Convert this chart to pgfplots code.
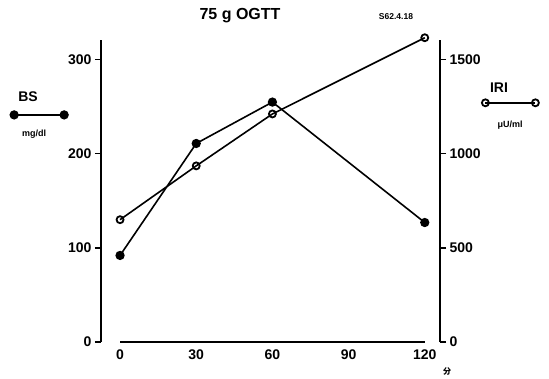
\documentclass[border=0pt]{standalone}
\usepackage{pgfplots}
\pgfplotsset{compat=1.18}
\usepackage{fontspec}
\setmainfont{Liberation Sans}
\newfontfamily\cjk{Noto Sans CJK JP}
\begin{document}
\begin{tikzpicture}
\path[use as bounding box] (0pt,0pt) rectangle (549pt,378pt);
\pgfplotsset{
  common/.style={
    at={(101pt,36pt)}, anchor=south west,
    scale only axis, width=339pt, height=302pt,
    xmin=-7.5, xmax=126,
    clip=false,
    /pgf/number format/assume math mode=true,
    /pgf/number format/1000 sep={},
    tick label style={font=\fontsize{14}{16}\selectfont\bfseries},
    axis line style={line width=1.6pt},
    major tick length=6pt,
    tick style={line width=1.2pt, black},
    tick align=outside,
  },
  legend image code/.code={%
    \draw[#1] plot coordinates {(0pt,0pt) (50pt,0pt)};
  },
}
\begin{axis}[common,
  ymin=0, ymax=321,
  axis y line*=left,
  axis x line*=bottom,
  x axis line style={shorten <=19pt, shorten >=15pt},
  ytick={0,100,200,300},
  xtick={0,30,60,90,120},
  xtick style={draw=none},
  xticklabel style={yshift=2pt},
  legend style={draw=none, fill=none, inner sep=0pt, at={(-0.268,0.752)}, anchor=west,
    /tikz/every even column/.append style={column sep=0pt}},
]
\addplot[black, line width=1.6pt, mark=*, mark size=3.8pt] coordinates {
  (0,92) (30,211) (60,255) (120,127)};
\addlegendentry{}
\end{axis}
\begin{axis}[common,
  ymin=0, ymax=1605,
  axis y line*=right,
  axis x line=none,
  ytick={0,500,1000,1500},
  legend style={draw=none, fill=none, inner sep=0pt, at={(1.123,0.792)}, anchor=west},
]
\addplot[black, line width=1.6pt, mark=o, mark size=3.5pt, mark options={line width=1.8pt, fill=white}] coordinates {
  (0,650) (30,936) (60,1212) (120,1617)};
\addlegendentry{}
\end{axis}
\node[font=\fontsize{16}{18}\selectfont\bfseries] at (240pt,362pt) {75 g OGTT};
\node[font=\fontsize{8.5}{10}\selectfont\bfseries] at (396pt,361pt) {S62.4.18};
\node[font=\fontsize{14}{16}\selectfont\bfseries] at (28pt,281pt) {BS};
\node[font=\fontsize{9}{10}\selectfont\bfseries] at (34pt,244pt) {mg/dl};
\node[font=\fontsize{14}{16}\selectfont\bfseries] at (499pt,290pt) {IRI};
\node[font=\fontsize{9}{10}\selectfont\bfseries] at (510pt,253pt) {μU/ml};
\node[font=\fontsize{8}{9}\selectfont\cjk\bfseries] at (447pt,6pt) {分};
\end{tikzpicture}
\end{document}
